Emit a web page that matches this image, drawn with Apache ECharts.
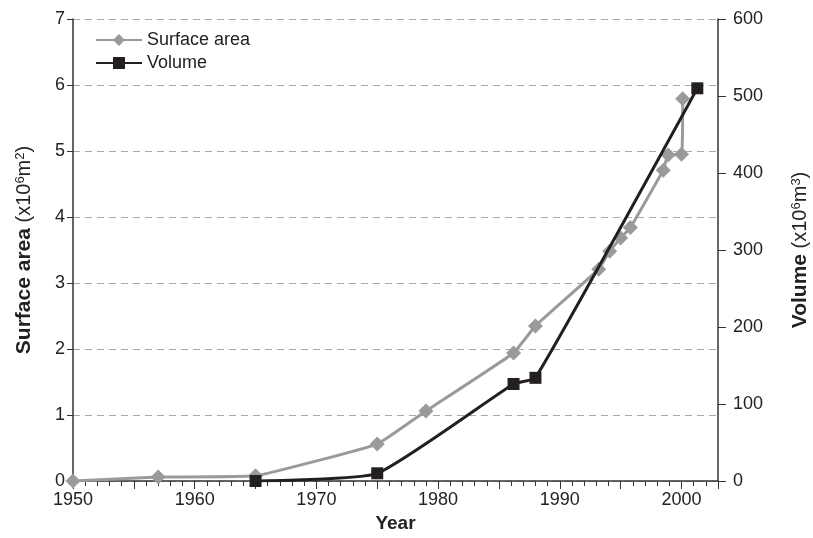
<!DOCTYPE html>
<html>
<head>
<meta charset="utf-8">
<script src="https://cdn.jsdelivr.net/npm/echarts@6/dist/echarts.min.js"></script>
<style>
  html, body { margin: 0; padding: 0; background: #fff; }
  #chart { width: 813px; height: 538px; }
</style>
</head>
<body>
<div id="chart"></div>
<script>
// surface area (x10^6 m2) by year
const areaYears = [1950, 1957, 1965, 1975, 1979, 1986.2, 1988, 1993.2, 1994.1, 1995, 1995.8, 1998.5, 1998.9, 2000, 2000.1]
const areaValues = [0, 0.06, 0.08, 0.56, 1.06, 1.94, 2.35, 3.21, 3.48, 3.68, 3.84, 4.71, 4.94, 4.95, 5.79]

// volume (x10^6 m3) by year
const volumeYears = [1965, 1975, 1986.2, 1988, 2001.3]
const volumeValues = [0, 10, 126, 134, 510]

const chart = echarts.init(document.getElementById('chart'))
const font = 'Liberation Sans, Arial, sans-serif'
const axisColor = '#333'
const textColor = '#222'

// rich styles for the rotated axis titles (bold word + unit with superscripts)
const titleRich = {
  b: { fontSize: 21, fontWeight: 'bold', color: textColor },
  n: { fontSize: 20, color: textColor },
  s: { fontSize: 13, color: textColor, verticalAlign: 'top' }
}

const option = {
  animation: false,
  backgroundColor: '#fff',
  textStyle: { fontFamily: font },
  grid: { left: 73, right: 95, top: 19, bottom: 57, outerBoundsMode: 'none', containLabel: false },
  legend: {
    orient: 'vertical',
    left: 90,
    top: 26,
    itemWidth: 46,
    itemHeight: 15,
    itemGap: 5,
    textStyle: { fontSize: 18, color: textColor, fontFamily: font },
    data: ['Surface area', 'Volume']
  },
  xAxis: {
    type: 'value',
    min: 1950,
    max: 2003,
    interval: 5,
    name: 'Year',
    nameLocation: 'middle',
    nameGap: 33,
    nameTextStyle: { fontSize: 19, fontWeight: 'bold', color: textColor },
    axisLine: { lineStyle: { color: axisColor, width: 1.5 } },
    axisTick: { length: 8, lineStyle: { color: axisColor } },
    minorTick: { show: true, splitNumber: 5, length: 5, lineStyle: { color: axisColor } },
    axisLabel: {
      fontSize: 18, color: textColor, margin: 10,
      formatter: v => (v % 10 === 0 ? String(v) : '')
    },
    splitLine: { show: false }
  },
  yAxis: [
    {
      type: 'value',
      min: 0,
      max: 7,
      interval: 1,
      name: '{b|Surface area}{n| (x10}{s|6}{n|m}{s|2}{n|)}',
      nameLocation: 'middle',
      nameGap: 38,
      nameRotate: 90,
      nameTextStyle: { rich: titleRich },
      axisLine: { show: true, lineStyle: { color: axisColor, width: 1.5 } },
      axisTick: { show: true, length: 6, lineStyle: { color: axisColor } },
      axisLabel: { fontSize: 18, color: textColor, margin: 8 },
      splitLine: { show: true, lineStyle: { color: '#aaa', type: [7, 5], width: 1 } }
    },
    {
      type: 'value',
      min: 0,
      max: 600,
      interval: 100,
      position: 'right',
      name: '{b|Volume}{n| (x10}{s|6}{n|m}{s|3}{n|)}',
      nameLocation: 'middle',
      nameGap: 72,
      nameRotate: 90,
      nameTextStyle: { rich: titleRich },
      axisLine: { show: true, lineStyle: { color: axisColor, width: 1.5 } },
      axisTick: { show: true, length: 8, lineStyle: { color: axisColor } },
      axisLabel: { fontSize: 18, color: textColor, margin: 15 },
      splitLine: { show: false }
    }
  ],
  series: [
    {
      name: 'Surface area',
      type: 'line',
      yAxisIndex: 0,
      symbol: 'diamond',
      symbolSize: 15,
      smooth: 0.1,
      lineStyle: { color: '#9a9a9a', width: 3 },
      itemStyle: { color: '#9a9a9a' },
      data: areaYears.map((y, i) => [y, areaValues[i]]),
      z: 2
    },
    {
      name: 'Volume',
      type: 'line',
      yAxisIndex: 1,
      symbol: 'rect',
      symbolSize: 12,
      smooth: 0.15,
      lineStyle: { color: '#231f20', width: 3 },
      itemStyle: { color: '#231f20' },
      data: volumeYears.map((y, i) => [y, volumeValues[i]]),
      z: 3
    }
  ]
}

chart.setOption(option)
</script>
</body>
</html>
